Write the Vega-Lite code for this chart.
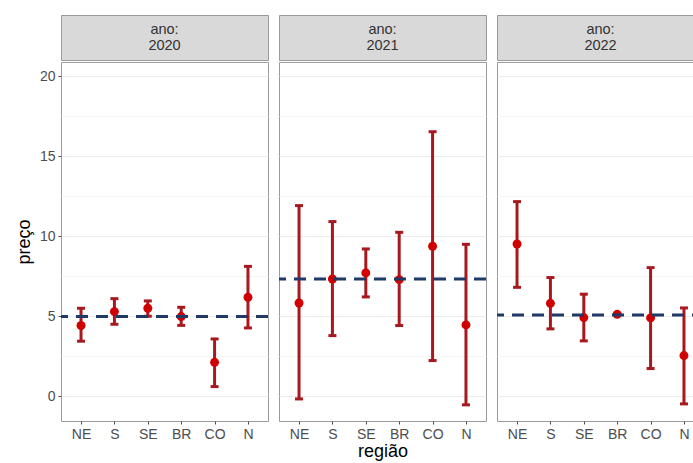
{
  "$schema": "https://vega.github.io/schema/vega-lite/v6.json",
  "padding": {"top": 14, "left": 14, "right": 0, "bottom": 5},
  "background": "white",
  "datasets": {
    "dados": [
      {"ano": 2020, "regiao": "NE", "preco": 4.42, "inf": 3.44, "sup": 5.5},
      {"ano": 2020, "regiao": "S", "preco": 5.29, "inf": 4.5, "sup": 6.1},
      {"ano": 2020, "regiao": "SE", "preco": 5.5, "inf": 5.0, "sup": 5.96},
      {"ano": 2020, "regiao": "BR", "preco": 4.98, "inf": 4.43, "sup": 5.56},
      {"ano": 2020, "regiao": "CO", "preco": 2.12, "inf": 0.6, "sup": 3.58},
      {"ano": 2020, "regiao": "N", "preco": 6.19, "inf": 4.27, "sup": 8.12},
      {"ano": 2021, "regiao": "NE", "preco": 5.83, "inf": -0.17, "sup": 11.92},
      {"ano": 2021, "regiao": "S", "preco": 7.33, "inf": 3.79, "sup": 10.92},
      {"ano": 2021, "regiao": "SE", "preco": 7.71, "inf": 6.21, "sup": 9.21},
      {"ano": 2021, "regiao": "BR", "preco": 7.29, "inf": 4.42, "sup": 10.25},
      {"ano": 2021, "regiao": "CO", "preco": 9.38, "inf": 2.23, "sup": 16.54},
      {"ano": 2021, "regiao": "N", "preco": 4.46, "inf": -0.54, "sup": 9.5},
      {"ano": 2022, "regiao": "NE", "preco": 9.52, "inf": 6.81, "sup": 12.17},
      {"ano": 2022, "regiao": "S", "preco": 5.81, "inf": 4.21, "sup": 7.42},
      {"ano": 2022, "regiao": "SE", "preco": 4.92, "inf": 3.46, "sup": 6.38},
      {"ano": 2022, "regiao": "BR", "preco": 5.12, "inf": 5.1, "sup": 5.14},
      {"ano": 2022, "regiao": "CO", "preco": 4.9, "inf": 1.73, "sup": 8.04},
      {"ano": 2022, "regiao": "N", "preco": 2.54, "inf": -0.48, "sup": 5.52}
    ],
    "medias": [
      {"ano": 2020, "media": 4.98},
      {"ano": 2021, "media": 7.33},
      {"ano": 2022, "media": 5.08}
    ],
    "faixas": [
      {"ano": 2020, "rotulo": "ano:\n2020"},
      {"ano": 2021, "rotulo": "ano:\n2021"},
      {"ano": 2022, "rotulo": "ano:\n2022"}
    ]
  },
  "config": {
    "font": "Liberation Sans",
    "view": {"stroke": "#9a9a9a", "strokeWidth": 1},
    "axis": {
      "labelFont": "Liberation Sans",
      "titleFont": "Liberation Sans",
      "labelColor": "#4d4d4d",
      "labelFontSize": 14,
      "titleFontSize": 18,
      "titleFontWeight": "normal",
      "titleColor": "#000000",
      "tickColor": "#4d4d4d",
      "tickSize": 3,
      "domain": false,
      "gridColor": "#ebebeb",
      "gridWidth": 1
    },
    "concat": {"spacing": 7}
  },
  "hconcat": [
    {
      "spacing": 0,
      "vconcat": [
        {
          "data": {"name": "faixas"},
          "transform": [{"filter": "datum.ano == 2020"}],
          "width": 207, "height": 45,
          "view": {"fill": "#d9d9d9", "stroke": "#9a9a9a"},
          "mark": {"type": "text", "lineBreak": "\n", "fontSize": 14.5, "color": "#333333", "baseline": "middle", "lineHeight": 16, "dy": -8},
          "encoding": {"text": {"field": "rotulo"}}
        },
        {
          "width": 207, "height": 359,
          "layer": [
            {
              "data": {"name": "dados"},
              "transform": [{"filter": "datum.ano == 2020"}],
              "encoding": {
                "x": {"field": "regiao", "type": "nominal", "sort": ["NE", "S", "SE", "BR", "CO", "N"],
                      "scale": {"type": "point", "padding": 0.6},
                      "axis": {"title": null, "labelAngle": 0, "labelPadding": 3}}
              },
              "layer": [
                {
                  "mark": {"type": "rule", "color": "#a8191f", "strokeWidth": 3},
                  "encoding": {
                    "y": {"field": "inf", "type": "quantitative",
                          "scale": {"domain": [-1.55, 20.9], "nice": false, "zero": false},
                          "axis": {"title": "preço", "values": [0, 2.5, 5, 7.5, 10, 12.5, 15, 17.5, 20],
                                   "labelExpr": "datum.value % 5 == 0 ? datum.label : ''",
                                   "gridColor": {"condition": {"test": "datum.value % 5 == 0", "value": "#ebebeb"}, "value": "#f5f5f5"},
                                   "tickOpacity": {"condition": {"test": "datum.value % 5 == 0", "value": 1}, "value": 0},
                                   "titlePadding": 6, "labelPadding": 3}},
                    "y2": {"field": "sup"}
                  }
                },
                {
                  "mark": {"type": "tick", "color": "#a8191f", "size": 8, "thickness": 3, "opacity": 1},
                  "encoding": {"y": {"field": "inf", "type": "quantitative"}}
                },
                {
                  "mark": {"type": "tick", "color": "#a8191f", "size": 8, "thickness": 3, "opacity": 1},
                  "encoding": {"y": {"field": "sup", "type": "quantitative"}}
                },
                {
                  "mark": {"type": "point", "filled": true, "color": "#d00000", "opacity": 1, "size": 80},
                  "encoding": {"y": {"field": "preco", "type": "quantitative"}}
                }
              ]
            },
            {
              "data": {"name": "medias"},
              "transform": [{"filter": "datum.ano == 2020"}],
              "mark": {"type": "rule", "color": "#1f3a66", "strokeWidth": 3, "strokeDash": [12, 8]},
              "encoding": {"y": {"field": "media", "type": "quantitative"}}
            }
          ]
        }
      ]
    },
    {
      "spacing": 0,
      "vconcat": [
        {
          "data": {"name": "faixas"},
          "transform": [{"filter": "datum.ano == 2021"}],
          "width": 207, "height": 45,
          "view": {"fill": "#d9d9d9", "stroke": "#9a9a9a"},
          "mark": {"type": "text", "lineBreak": "\n", "fontSize": 14.5, "color": "#333333", "baseline": "middle", "lineHeight": 16, "dy": -8},
          "encoding": {"text": {"field": "rotulo"}}
        },
        {
          "width": 207, "height": 359,
          "layer": [
            {
              "data": {"name": "dados"},
              "transform": [{"filter": "datum.ano == 2021"}],
              "encoding": {
                "x": {"field": "regiao", "type": "nominal", "sort": ["NE", "S", "SE", "BR", "CO", "N"],
                      "scale": {"type": "point", "padding": 0.6},
                      "axis": {"title": "região", "labelAngle": 0, "labelPadding": 3, "titlePadding": 1}}
              },
              "layer": [
                {
                  "mark": {"type": "rule", "color": "#a8191f", "strokeWidth": 3},
                  "encoding": {
                    "y": {"field": "inf", "type": "quantitative",
                          "scale": {"domain": [-1.55, 20.9], "nice": false, "zero": false},
                          "axis": {"title": null, "values": [0, 2.5, 5, 7.5, 10, 12.5, 15, 17.5, 20],
                                   "labels": false, "ticks": false,
                                   "gridColor": {"condition": {"test": "datum.value % 5 == 0", "value": "#ebebeb"}, "value": "#f5f5f5"}}},
                    "y2": {"field": "sup"}
                  }
                },
                {
                  "mark": {"type": "tick", "color": "#a8191f", "size": 8, "thickness": 3, "opacity": 1},
                  "encoding": {"y": {"field": "inf", "type": "quantitative"}}
                },
                {
                  "mark": {"type": "tick", "color": "#a8191f", "size": 8, "thickness": 3, "opacity": 1},
                  "encoding": {"y": {"field": "sup", "type": "quantitative"}}
                },
                {
                  "mark": {"type": "point", "filled": true, "color": "#d00000", "opacity": 1, "size": 80},
                  "encoding": {"y": {"field": "preco", "type": "quantitative"}}
                }
              ]
            },
            {
              "data": {"name": "medias"},
              "transform": [{"filter": "datum.ano == 2021"}],
              "mark": {"type": "rule", "color": "#1f3a66", "strokeWidth": 3, "strokeDash": [12, 8]},
              "encoding": {"y": {"field": "media", "type": "quantitative"}}
            }
          ]
        }
      ]
    },
    {
      "spacing": 0,
      "vconcat": [
        {
          "data": {"name": "faixas"},
          "transform": [{"filter": "datum.ano == 2022"}],
          "width": 207, "height": 45,
          "view": {"fill": "#d9d9d9", "stroke": "#9a9a9a"},
          "mark": {"type": "text", "lineBreak": "\n", "fontSize": 14.5, "color": "#333333", "baseline": "middle", "lineHeight": 16, "dy": -8},
          "encoding": {"text": {"field": "rotulo"}}
        },
        {
          "width": 207, "height": 359,
          "layer": [
            {
              "data": {"name": "dados"},
              "transform": [{"filter": "datum.ano == 2022"}],
              "encoding": {
                "x": {"field": "regiao", "type": "nominal", "sort": ["NE", "S", "SE", "BR", "CO", "N"],
                      "scale": {"type": "point", "padding": 0.6},
                      "axis": {"title": null, "labelAngle": 0, "labelPadding": 3}}
              },
              "layer": [
                {
                  "mark": {"type": "rule", "color": "#a8191f", "strokeWidth": 3},
                  "encoding": {
                    "y": {"field": "inf", "type": "quantitative",
                          "scale": {"domain": [-1.55, 20.9], "nice": false, "zero": false},
                          "axis": {"title": null, "values": [0, 2.5, 5, 7.5, 10, 12.5, 15, 17.5, 20],
                                   "labels": false, "ticks": false,
                                   "gridColor": {"condition": {"test": "datum.value % 5 == 0", "value": "#ebebeb"}, "value": "#f5f5f5"}}},
                    "y2": {"field": "sup"}
                  }
                },
                {
                  "mark": {"type": "tick", "color": "#a8191f", "size": 8, "thickness": 3, "opacity": 1},
                  "encoding": {"y": {"field": "inf", "type": "quantitative"}}
                },
                {
                  "mark": {"type": "tick", "color": "#a8191f", "size": 8, "thickness": 3, "opacity": 1},
                  "encoding": {"y": {"field": "sup", "type": "quantitative"}}
                },
                {
                  "mark": {"type": "point", "filled": true, "color": "#d00000", "opacity": 1, "size": 80},
                  "encoding": {"y": {"field": "preco", "type": "quantitative"}}
                }
              ]
            },
            {
              "data": {"name": "medias"},
              "transform": [{"filter": "datum.ano == 2022"}],
              "mark": {"type": "rule", "color": "#1f3a66", "strokeWidth": 3, "strokeDash": [12, 8]},
              "encoding": {"y": {"field": "media", "type": "quantitative"}}
            }
          ]
        }
      ]
    }
  ]
}
